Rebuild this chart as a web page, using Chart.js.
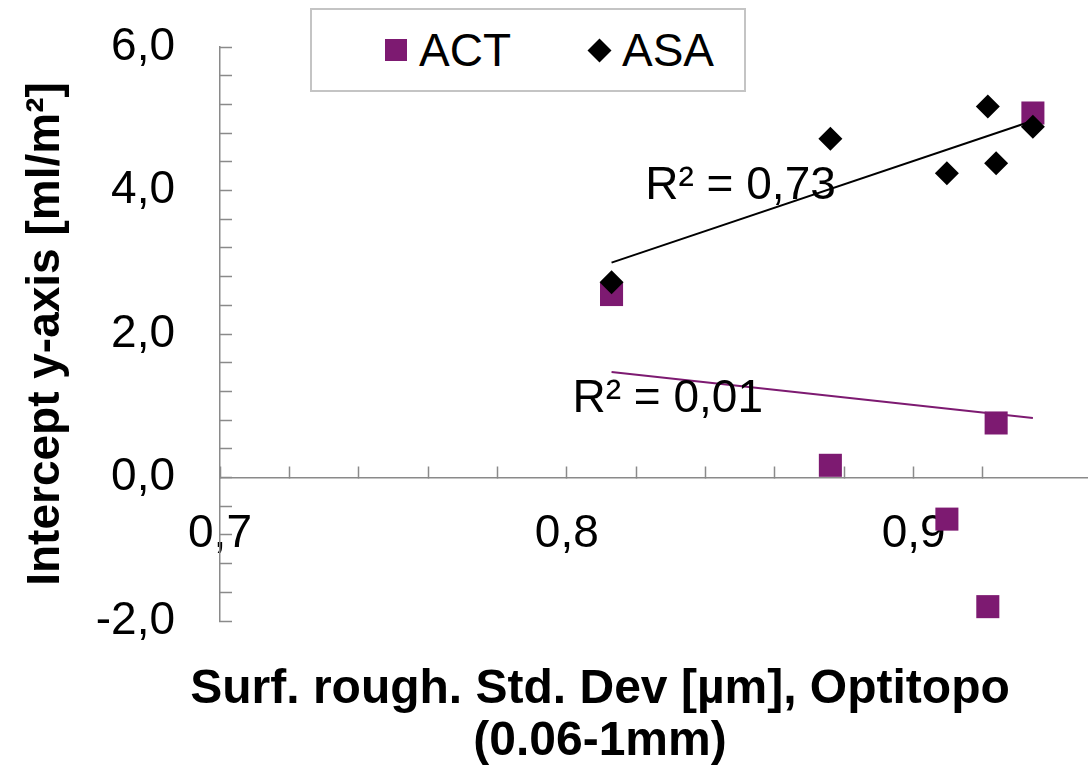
<!DOCTYPE html>
<html>
<head>
<meta charset="utf-8">
<script src="https://cdn.jsdelivr.net/npm/chart.js@4.4.1/dist/chart.umd.min.js"></script>
<style>
  body { margin: 0; background: #fff; }
  #wrap { position: relative; width: 1092px; height: 765px; }
  #legend {
    position: absolute; left: 310px; top: 8px; width: 432px; height: 80px;
    border: 2px solid #c4c4c4; background: #fff;
    display: flex; align-items: center;
    font: 46px 'Liberation Sans', Arial, sans-serif; color: #000;
  }
  #legend .item { display: flex; align-items: center; }
  #legend .marker { flex: none; }
</style>
</head>
<body>
<div id="wrap">
  <canvas id="chart" width="1092" height="765"></canvas>
  <div id="legend"></div>
</div>
<script>
// roughness (x) and intercept values for the two coatings
const roughness = [0.8129, 0.8760, 0.9096, 0.9214, 0.9238, 0.9344];
const actIntercept = [2.55, 0.17, -0.58, -1.80, 0.76, 5.08];
const asaIntercept = [2.72, 4.72, 4.24, 5.17, 4.38, 4.89];
const seriesNames = ['ACT', 'ASA'];

// labelled ticks
const xLabelTicks = [0.7, 0.8, 0.9];
const yLabelTicks = [-2, 0, 2, 4, 6];

const ACT_COLOR = '#7D1A71';
const ASA_COLOR = '#000000';
const AXIS_GRAY = '#8a8a8a';
const FONT = "'Liberation Sans', Arial, sans-serif";

function fmt(v, digits) {
    return v.toFixed(digits).replace('.', ',');
}

function linearFit(xs, ys) {
    const n = xs.length;
    const mx = xs.reduce((a, b) => a + b, 0) / n;
    const my = ys.reduce((a, b) => a + b, 0) / n;
    let sxy = 0, sxx = 0, syy = 0;
    for (let i = 0; i < n; i++) {
        const dx = xs[i] - mx, dy = ys[i] - my;
        sxy += dx * dy; sxx += dx * dx; syy += dy * dy;
    }
    const slope = sxy / sxx;
    return { slope: slope, intercept: my - slope * mx, r2: (sxy * sxy) / (sxx * syy) };
}

function toPoints(xs, ys) {
    return xs.map((x, i) => ({ x: x, y: ys[i] }));
}

function trendPoints(fit, xs) {
    const lo = Math.min(...xs), hi = Math.max(...xs);
    return [lo, hi].map(x => ({ x: x, y: fit.intercept + fit.slope * x }));
}

const fits = {
    ACT: linearFit(roughness, actIntercept),
    ASA: linearFit(roughness, asaIntercept)
};

const isOneOf = (v, list) => list.some(t => Math.abs(v - t) < 1e-6);

// R² texts next to the trend lines, plus the two-line x title
const annotations = {
    id: 'annotations',
    afterDatasetsDraw(chart, args, opts) {
        const { ctx, scales: { x, y } } = chart;
        ctx.save();
        ctx.fillStyle = '#000';
        ctx.textAlign = 'center';
        ctx.textBaseline = 'alphabetic';
        ctx.font = '46px ' + FONT;
        opts.r2Labels.forEach(l => {
            ctx.fillText('R² = ' + fmt(fits[l.series].r2, 2), x.getPixelForValue(l.x), y.getPixelForValue(l.y));
        });
        ctx.font = 'bold 48px ' + FONT;
        opts.xTitle.lines.forEach((line, i) => {
            ctx.fillText(line, opts.xTitle.x, opts.xTitle.y + i * opts.xTitle.lineGap);
        });
        ctx.restore();
    }
};

const config = {
    type: 'scatter',
    data: {
        datasets: [
            {
                label: seriesNames[0],
                data: toPoints(roughness, actIntercept),
                pointStyle: 'rect',
                pointRadius: 16.3,
                backgroundColor: ACT_COLOR,
                borderWidth: 0,
                order: 2
            },
            {
                label: seriesNames[1],
                data: toPoints(roughness, asaIntercept),
                pointStyle: 'rectRot',
                pointRadius: 12,
                backgroundColor: ASA_COLOR,
                borderWidth: 0,
                order: 1
            },
            {
                label: 'ACT trend',
                trend: true,
                data: trendPoints(fits.ACT, roughness),
                showLine: true,
                pointRadius: 0,
                borderColor: ACT_COLOR,
                borderWidth: 2,
                order: 0
            },
            {
                label: 'ASA trend',
                trend: true,
                data: trendPoints(fits.ASA, roughness),
                showLine: true,
                pointRadius: 0,
                borderColor: ASA_COLOR,
                borderWidth: 2,
                order: 0
            }
        ]
    },
    options: {
        responsive: false,
        animation: false,
        events: [],
        layout: {
            autoPadding: false,
            padding: { left: 0, top: 47, right: 5, bottom: 144 }
        },
        scales: {
            x: {
                type: 'linear',
                position: { y: 0 },
                min: 0.7,
                max: 0.95,
                // the layout padding already leaves room for the labels
                afterFit: scale => { scale.paddingLeft = 0; scale.paddingRight = 0; },
                ticks: {
                    stepSize: 0.02,
                    autoSkip: false,
                    maxRotation: 0,
                    minRotation: 0,
                    padding: 41,
                    color: '#000',
                    font: { family: FONT, size: 46 },
                    callback: v => isOneOf(v, xLabelTicks) ? fmt(v, 1) : ''
                },
                grid: {
                    drawOnChartArea: false,
                    tickLength: -12,
                    tickWidth: 1.5,
                    tickColor: c => (c.tick && c.tick.value > 0.945) ? 'rgba(0,0,0,0)' : AXIS_GRAY
                },
                border: { color: AXIS_GRAY, width: 1.5 }
            },
            y: {
                position: 'left',
                min: -2,
                max: 6,
                afterFit: scale => {
                    scale.width = 220;
                    scale.paddingTop = 0;
                    scale.paddingBottom = 0;
                },
                ticks: {
                    stepSize: 0.4,
                    autoSkip: false,
                    padding: 57,
                    color: '#000',
                    font: { family: FONT, size: 46 },
                    callback: v => isOneOf(v, yLabelTicks) ? fmt(v, 1) : ''
                },
                grid: {
                    drawOnChartArea: false,
                    tickLength: -12,
                    tickWidth: 1.5,
                    tickColor: AXIS_GRAY
                },
                border: { color: AXIS_GRAY, width: 1.5 },
                title: {
                    display: true,
                    text: 'Intercept y-axis [ml/m²]',
                    color: '#000',
                    font: { family: FONT, size: 46, weight: 'bold', lineHeight: 1 },
                    padding: { top: 23, bottom: 0 }
                }
            }
        },
        plugins: {
            legend: { display: false },
            tooltip: { enabled: false },
            annotations: {
                r2Labels: [
                    { series: 'ASA', x: 0.8501, y: 3.88 },
                    { series: 'ACT', x: 0.8291, y: 0.913 }
                ],
                xTitle: {
                    lines: ['Surf. rough. Std. Dev [µm], Optitopo', '(0.06-1mm)'],
                    x: 600,
                    y: 703,
                    lineGap: 52
                }
            }
        }
    },
    plugins: [annotations]
};

const chart = new Chart(document.getElementById('chart'), config);

// legend box built from the scatter datasets
const legendEl = document.getElementById('legend');
const legendLayout = [
    { lead: 73, gap: 12 },
    { lead: 80, gap: 14 }
];
chart.data.datasets.filter(d => !d.trend).forEach((ds, i) => {
    const item = document.createElement('div');
    item.className = 'item';
    item.style.marginLeft = legendLayout[i].lead + 'px';
    const marker = document.createElement('div');
    marker.className = 'marker';
    marker.style.background = ds.backgroundColor;
    if (ds.pointStyle === 'rectRot') {
        marker.style.width = '17px';
        marker.style.height = '17px';
        marker.style.transform = 'rotate(45deg)';
    } else {
        marker.style.width = '22px';
        marker.style.height = '22px';
    }
    const text = document.createElement('span');
    text.textContent = ds.label;
    text.style.marginLeft = legendLayout[i].gap + 'px';
    item.appendChild(marker);
    item.appendChild(text);
    legendEl.appendChild(item);
});
</script>
</body>
</html>
